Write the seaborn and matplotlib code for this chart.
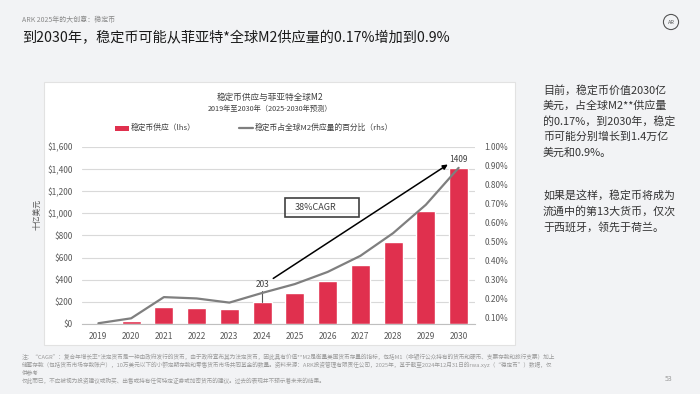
import numpy as np
import pandas as pd
import matplotlib
matplotlib.use('Agg')
import matplotlib.pyplot as plt
import seaborn as sns
from matplotlib.patches import Rectangle, Circle
from matplotlib.lines import Line2D

years = ['2019', '2020', '2021', '2022', '2023', '2024',
         '2025', '2026', '2027', '2028', '2029', '2030']
supply = [4, 30, 158, 149, 137, 203, 281, 388, 534, 740, 1018, 1409]   # 十亿美元
m2_share = [0.069, 0.095, 0.207, 0.200, 0.178, 0.229,
            0.276, 0.340, 0.425, 0.545, 0.695, 0.890]                   # %
left_ticks = [0, 200, 400, 600, 800, 1000, 1200, 1400, 1600]
right_ticks = [0.1, 0.2, 0.3, 0.4, 0.5, 0.6, 0.7, 0.8, 0.9, 1.0]

side_text = ['目前，稳定币价值2030亿', '美元，占全球M2**供应量', '的0.17%，到2030年，稳定',
             '币可能分别增长到1.4万亿', '美元和0.9%。']
side_text2 = ['如果是这样，稳定币将成为', '流通中的第13大货币，仅次', '于西班牙，领先于荷兰。']
notes = ['注：“CAGR”：复合年增长率*法定货币是一种由政府发行的货币，由于政府宣布其为法定货币，因此具有价值**M2是衡量美国货币存量的指标，包括M1（非银行公众持有的货币和硬币、支票存款和旅行支票）加上',
         '储蓄存款（包括货币市场存款账户），10万美元以下的小额定期存款和零售货币市场共同基金的数量。资料来源：ARK投资管理有限责任公司，2025年，基于截至2024年12月31日的rwa.xyz（“稳定币”）数据，仅',
         '供参考',
         '仅此而已，不应被视为投资建议或购买、出售或持有任何特定证券或加密货币的建议。过去的表现并不预示着未来的结果。']

sns.set_theme(style='white')
plt.rcParams['font.family'] = ['Noto Sans CJK SC', 'DejaVu Sans']

W, H = 700, 394
RED = '#e0304e'
GREY = '#7f7f7f'


def fx(x):
    return x / W


def fy(y):
    return 1 - y / H


fig = plt.figure(figsize=(7, 3.94), dpi=100)
fig.patch.set_facecolor('#f2f3f5')

# white chart panel
fig.add_artist(Rectangle((fx(44), fy(345)), 471 / W, 263 / H, transform=fig.transFigure,
                         facecolor='white', edgecolor='#e2e2e2', lw=0.8, zorder=-1))

# page header
fig.text(fx(22), fy(20), 'ARK 2025年的大创意：稳定币', fontsize=5, color='#8a8a8a', va='center')
fig.text(fx(22), fy(38), '到2030年，稳定币可能从菲亚特*全球M2供应量的0.17%增加到0.9%',
         fontsize=10.2, color='#1a1a1a', va='center')

# logo
lax = fig.add_axes([fx(662), fy(31), 18 / W, 18 / H])
lax.set_xlim(0, 1)
lax.set_ylim(0, 1)
lax.set_aspect('equal')
lax.axis('off')
lax.add_patch(Circle((0.5, 0.5), 0.42, fill=False, edgecolor='#555555', lw=0.8))
lax.text(0.5, 0.5, 'AR', fontsize=4, ha='center', va='center', color='#555555')

# chart titles and legend
fig.text(fx(270), fy(97), '稳定币供应与菲亚特全球M2', fontsize=6.2, ha='center', va='center', color='#404040')
fig.text(fx(270), fy(109), '2019年至2030年（2025-2030年预测）', fontsize=5.2, ha='center', va='center', color='#404040')
fig.add_artist(Rectangle((fx(115), fy(130.5)), 14 / W, 5 / H, transform=fig.transFigure,
                         facecolor=RED, edgecolor='none'))
fig.text(fx(131), fy(128), '稳定币供应（lhs）', fontsize=5.6, va='center', color='#404040')
fig.add_artist(Line2D([fx(239), fx(253)], [fy(128), fy(128)], transform=fig.transFigure,
                      color=GREY, lw=1.6))
fig.text(fx(255), fy(128), '稳定币占全球M2供应量的百分比（rhs）', fontsize=5.6, va='center', color='#404040')

# main axes
ax = fig.add_axes([fx(82), fy(324), (475 - 82) / W, (324 - 147) / H])
ax.set_facecolor('none')
df = pd.DataFrame({'year': years, 'supply': supply})
sns.barplot(data=df, x='year', y='supply', color=RED, saturation=1, width=0.58, ax=ax, zorder=2)
ax.set_ylim(0, 1600)
ax.set_xlim(-0.5, len(years) - 0.5)
ax.set_yticks(left_ticks)
ax.set_yticklabels([f'${v:,}' for v in left_ticks])
ax.set_xlabel('')
ax.set_ylabel('')
ax.grid(axis='y', color='#d9d9d9', lw=0.8, zorder=0)
ax.set_axisbelow(True)
for s in ['left', 'right', 'top']:
    ax.spines[s].set_visible(False)
ax.spines['bottom'].set_color('#bfbfbf')
ax.spines['bottom'].set_linewidth(0.8)
ax.tick_params(axis='y', length=0, pad=6.5, labelsize=6, labelcolor='#595959')
ax.tick_params(axis='x', length=0, pad=6, labelsize=6, labelcolor='#595959')
ax.set_xticks(np.arange(-0.5, len(years), 1), minor=True)
ax.tick_params(axis='x', which='minor', length=3, color='#bfbfbf', width=0.6)

fig.text(fx(37), fy(215), '十亿美元', fontsize=5.6, rotation=90, ha='center', va='center', color='#595959')

# annotations
ax.plot([5, 5], [300, 203], color='#555555', lw=0.8, zorder=3)
ax.text(5, 353, '203', fontsize=6, ha='center', va='center', color='#404040')
ax.text(11, 1484, '1409', fontsize=6, ha='center', va='center', color='#404040')
ax.annotate('', xy=(10.67, 1442), xytext=(5.34, 412),
            arrowprops=dict(arrowstyle='-|>', color='black', lw=1.1, mutation_scale=7,
                            shrinkA=0, shrinkB=0), zorder=4)
ax.add_patch(Rectangle((5.7, 964), 2.26, 173, fill=False, edgecolor='#404040', lw=1.2, zorder=4))
ax.text(6.63, 1050, '38%CAGR', fontsize=6.5, ha='center', va='center', color='#404040')

# right axis line
ax2 = ax.twinx()
sns.lineplot(x=np.arange(len(years)), y=m2_share, ax=ax2, color=GREY, lw=1.6)
ax2.set_ylim(0.065, 1.0)
ax2.set_xlim(-0.5, len(years) - 0.5)
ax2.set_yticks(right_ticks)
ax2.set_yticklabels([f'{v:.2f}%' for v in right_ticks])
ax2.set_ylabel('')
ax2.grid(False)
for s in ['left', 'right', 'top', 'bottom']:
    ax2.spines[s].set_visible(False)
ax2.tick_params(axis='y', length=0, pad=7, labelsize=6, labelcolor='#595959')

# side commentary
for i, line in enumerate(side_text):
    fig.text(fx(543), fy(90 + i * 15.6), line, fontsize=7.9, va='center', color='#333333')
for i, line in enumerate(side_text2):
    fig.text(fx(543), fy(195 + i * 16), line, fontsize=7.9, va='center', color='#333333')

# footnotes
for y, line in zip([357, 365, 372.5, 381], notes):
    fig.text(fx(22), fy(y), line, fontsize=4.1, va='center', color='#9a9a9a')
fig.text(fx(669), fy(379), '53', fontsize=5, va='center', ha='center', color='#9a9a9a')

fig.savefig('out.png', dpi=100, facecolor=fig.get_facecolor())
